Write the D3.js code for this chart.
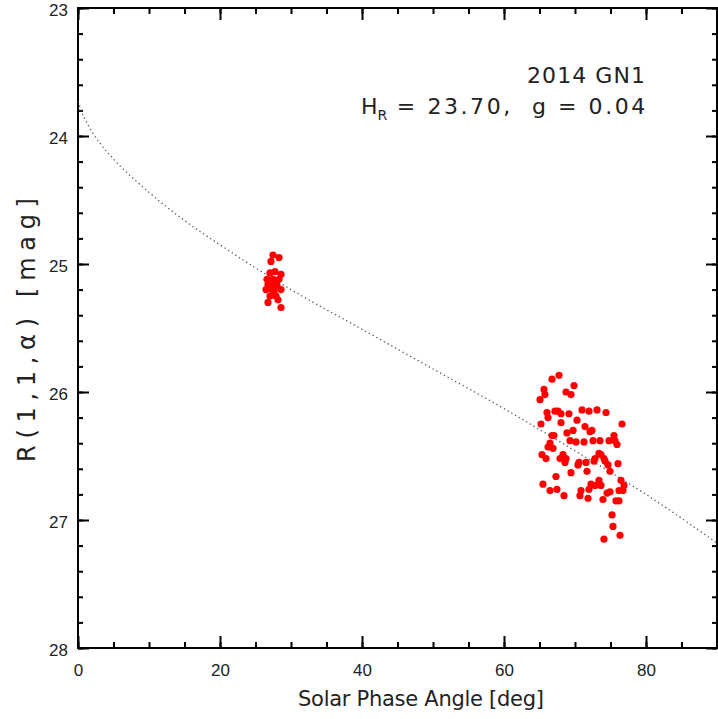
<!DOCTYPE html>
<html>
<head>
<meta charset="utf-8">
<script src="https://cdn.jsdelivr.net/npm/d3@7"></script>
<style>
  body { margin: 0; background: #fff; }
  svg { display: block; font-family: "Liberation Sans", Arial, sans-serif; }
</style>
</head>
<body>
<div id="chart"></div>
<script>
// observed points (phase angle in deg, reduced magnitude)
var phaseAngle = [
  27.46, 28.31, 27.18, 27.04, 27.75, 28.59, 26.62, 27.46, 28.31, 27.18, 28.03,
  26.48, 27.61, 28.59, 27.04, 27.89, 26.76, 28.17, 28.59, 27.32, 26.76, 27.89,
  66.76, 67.75, 69.86, 65.63, 65.77, 68.73, 69.44, 65.07, 66.06, 67.18,
  67.61, 68.03, 69.15, 70.99, 71.97, 73.10, 74.37, 66.20, 65.21, 68.03,
  70.28, 76.62, 71.41, 68.87, 69.72, 67.04, 66.76, 72.39, 72.11, 75.49,
  69.30, 70.14, 71.27, 72.54, 73.52, 74.79, 75.63, 75.92, 66.48, 66.20,
  66.90, 65.35, 68.31, 73.38, 73.66, 65.92, 67.89, 68.73, 72.82, 74.08,
  68.59, 70.56, 70.42, 71.55, 72.68, 74.23, 74.65, 76.06, 74.93, 71.69,
  69.44, 67.32, 76.48, 76.90, 73.38, 72.25, 72.82, 73.66, 65.49, 67.46,
  66.48, 70.85, 71.97, 74.93, 74.51, 76.20, 76.76, 68.45, 70.70, 71.83,
  73.94, 75.77, 76.20, 75.21, 75.35, 76.34, 74.08
];
var reducedMag = [
  24.93, 24.95, 24.98, 25.07, 25.06, 25.08, 25.12, 25.12, 25.12, 25.16, 25.17,
  25.20, 25.21, 25.20, 25.25, 25.25, 25.30, 25.28, 25.34, 25.20, 25.16, 25.13,
  25.90, 25.87, 25.95, 25.98, 26.02, 26.00, 26.02, 26.06, 26.16, 26.15,
  26.15, 26.17, 26.17, 26.14, 26.15, 26.14, 26.16, 26.20, 26.25, 26.24,
  26.22, 26.25, 26.27, 26.32, 26.30, 26.34, 26.34, 26.30, 26.31, 26.34,
  26.38, 26.39, 26.39, 26.38, 26.38, 26.38, 26.38, 26.41, 26.40, 26.43,
  26.44, 26.49, 26.49, 26.48, 26.49, 26.52, 26.52, 26.52, 26.52, 26.52,
  26.55, 26.55, 26.57, 26.55, 26.54, 26.54, 26.57, 26.56, 26.62, 26.62,
  26.63, 26.66, 26.69, 26.73, 26.69, 26.72, 26.73, 26.73, 26.72, 26.76,
  26.77, 26.77, 26.76, 26.78, 26.79, 26.77, 26.77, 26.81, 26.81, 26.83,
  26.84, 26.85, 26.85, 26.96, 27.05, 27.12, 27.15
];

// fitted phase curve
var curveAngle = [0, 0.2, 0.5, 1, 2, 3, 5, 10, 15, 20, 30, 40, 50, 60, 70, 80, 90];
var curveMag = [23.73, 23.76, 23.81, 23.87, 23.97, 24.05, 24.18, 24.44, 24.66,
  24.85, 25.20, 25.51, 25.82, 26.13, 26.46, 26.80, 27.18];

var xMajor = [0, 20, 40, 60, 80];
var yMajor = [23, 24, 25, 26, 27, 28];

var width = 718, height = 719;
var margin = { left: 78, right: 1, top: 8, bottom: 71 };

var svg = d3.select("#chart").append("svg")
  .attr("width", width)
  .attr("height", height);

var x = d3.scaleLinear().domain([0, 90]).range([margin.left, width - margin.right]);
var y = d3.scaleLinear().domain([23, 28]).range([margin.top, height - margin.bottom]);

var plotTop = y.range()[0], plotBottom = y.range()[1];
var plotLeft = x.range()[0], plotRight = x.range()[1];

var xMinor = d3.range(0, 90.01, 5);
var yMinor = d3.range(23, 28.001, 0.2);

function styleAxis(g) {
  g.select(".domain").remove();
  g.selectAll(".tick line").attr("stroke", "#000").attr("stroke-width", 2);
  g.selectAll(".tick text")
    .attr("fill", "#222")
    .attr("font-size", 17);
}

// bottom axis
svg.append("g").attr("transform", "translate(0," + plotBottom + ")")
  .call(d3.axisBottom(x).tickValues(xMinor).tickSize(-6).tickFormat(""))
  .call(styleAxis);
svg.append("g").attr("transform", "translate(0," + plotBottom + ")")
  .call(d3.axisBottom(x).tickValues(xMajor).tickSize(-12).tickPadding(16).tickFormat(d3.format("d")))
  .call(styleAxis);
// top axis
svg.append("g").attr("transform", "translate(0," + plotTop + ")")
  .call(d3.axisTop(x).tickValues(xMinor).tickSize(-6).tickFormat(""))
  .call(styleAxis);
svg.append("g").attr("transform", "translate(0," + plotTop + ")")
  .call(d3.axisTop(x).tickValues(xMajor).tickSize(-12).tickFormat(""))
  .call(styleAxis);
// left axis
svg.append("g").attr("transform", "translate(" + plotLeft + ",0)")
  .call(d3.axisLeft(y).tickValues(yMinor).tickSize(-5).tickFormat(""))
  .call(styleAxis);
svg.append("g").attr("transform", "translate(" + plotLeft + ",0)")
  .call(d3.axisLeft(y).tickValues(yMajor).tickSize(-11).tickPadding(10).tickFormat(d3.format("d")))
  .call(styleAxis)
  .selectAll(".tick text").attr("dy", "0.45em");
// right axis
svg.append("g").attr("transform", "translate(" + plotRight + ",0)")
  .call(d3.axisRight(y).tickValues(yMinor).tickSize(-5).tickFormat(""))
  .call(styleAxis);
svg.append("g").attr("transform", "translate(" + plotRight + ",0)")
  .call(d3.axisRight(y).tickValues(yMajor).tickSize(-11).tickFormat(""))
  .call(styleAxis);

// frame
svg.append("rect")
  .attr("x", plotLeft).attr("y", plotTop)
  .attr("width", plotRight - plotLeft).attr("height", plotBottom - plotTop)
  .attr("fill", "none").attr("stroke", "#000").attr("stroke-width", 2);

// model curve
var curveData = curveAngle.map(function (a, i) { return [a, curveMag[i]]; });
var line = d3.line()
  .x(function (d) { return x(d[0]); })
  .y(function (d) { return y(d[1]); })
  .curve(d3.curveMonotoneX);

svg.append("path")
  .datum(curveData)
  .attr("d", line)
  .attr("fill", "none")
  .attr("stroke", "#555")
  .attr("stroke-width", 1.3)
  .attr("stroke-dasharray", "1.3,3");

// observations
var points = phaseAngle.map(function (a, i) { return { a: a, m: reducedMag[i] }; });
svg.append("g").selectAll("circle")
  .data(points)
  .enter()
  .append("circle")
  .attr("cx", function (d) { return x(d.a); })
  .attr("cy", function (d) { return y(d.m); })
  .attr("r", 3.6)
  .attr("fill", "#ff0000");

// axis titles
svg.append("text")
  .attr("x", 298).attr("y", 706)
  .attr("font-family", "DejaVu Sans")
  .attr("font-size", 21)
  .attr("fill", "#222")
  .attr("textLength", 246)
  .attr("lengthAdjust", "spacing")
  .text("Solar Phase Angle [deg]");

svg.append("text")
  .attr("transform", "translate(35,462) rotate(-90)")
  .attr("font-family", "DejaVu Sans")
  .attr("font-size", 24)
  .attr("fill", "#222")
  .attr("textLength", 264)
  .attr("lengthAdjust", "spacing")
  .text("R(1,1,\u03b1) [mag]");

// annotation
svg.append("text")
  .attr("x", 645).attr("y", 83)
  .attr("text-anchor", "end")
  .attr("font-family", "DejaVu Sans")
  .attr("font-size", 22)
  .attr("fill", "#222")
  .attr("textLength", 118)
  .attr("lengthAdjust", "spacing")
  .text("2014 GN1");

var ann = svg.append("text")
  .attr("x", 361).attr("y", 114)
  .attr("font-family", "DejaVu Sans")
  .attr("font-size", 22)
  .attr("fill", "#222");
ann.append("tspan").text("H");
ann.append("tspan").attr("font-size", 14).attr("dy", 6).text("R");
ann.append("tspan").attr("dy", -6)
  .attr("textLength", 258)
  .attr("lengthAdjust", "spacing")
  .text("\u00a0=\u00a023.70,\u00a0\u00a0g\u00a0=\u00a00.04");
</script>
</body>
</html>
